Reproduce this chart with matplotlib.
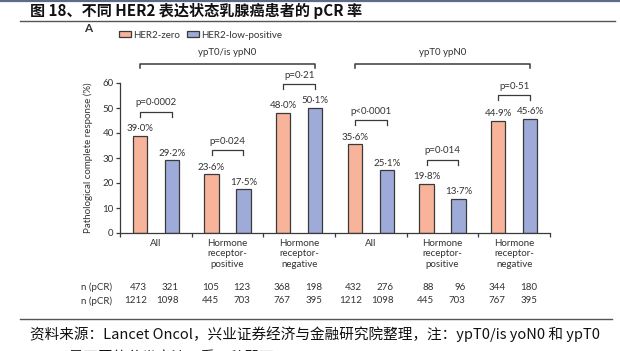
import matplotlib
matplotlib.use("Agg")
import matplotlib.pyplot as plt
from matplotlib.lines import Line2D
import numpy as np

# data
groups = ["All", "Hormone\nreceptor-\npositive", "Hormone\nreceptor-\nnegative"] * 2
her2_zero = [39.0, 23.6, 48.0, 35.6, 19.8, 44.9]
her2_low = [29.2, 17.5, 50.1, 25.1, 13.7, 45.6]
p_values = ["p=0·0002", "p=0·024", "p=0·21", "p<0·0001", "p=0·014", "p=0·51"]
n_pcr_zero = [473, 105, 368, 432, 88, 344]
n_pcr_low = [321, 123, 198, 276, 96, 180]
n_tot_zero = [1212, 445, 767, 1212, 445, 767]
n_tot_low = [1098, 703, 395, 1098, 703, 395]
endpoints = ["ypT0/is ypN0", "ypT0 ypN0"]

title = "图 18、不同 HER2 表达状态乳腺癌患者的 pCR 率"
source = "资料来源：Lancet Oncol，兴业证券经济与金融研究院整理，注：ypT0/is yoN0 和 ypT0"
source2 = "ypN0 是不同的分类方法，看一种即可"

# style
c_zero = "#f8b39b"
c_low = "#9eabd8"
edge = "#3a3a3a"
txt = "#333333"
plt.rcParams['font.family'] = ['Lato', 'Noto Sans CJK SC', 'DejaVu Sans']
cjk = ['Noto Sans CJK SC', 'DejaVu Sans']

W, H = 620, 351
fig = plt.figure(figsize=(W / 100, H / 100), dpi=100)
ax = fig.add_axes([120 / W, 118 / H, 430 / W, 150 / H])

x = np.arange(len(groups))
off, bw = 0.223, 0.2
b1 = ax.bar(x - off, her2_zero, bw, color=c_zero, edgecolor=edge, lw=0.9, label="HER2-zero")
b2 = ax.bar(x + off, her2_low, bw, color=c_low, edgecolor=edge, lw=0.9, label="HER2-low-positive")

ax.set_xlim(-0.5, len(groups) - 0.5)
ax.set_ylim(0, 60)
for s in ["top", "right"]:
  ax.spines[s].set_visible(False)
for s in ["left", "bottom"]:
  ax.spines[s].set_color(edge)
  ax.spines[s].set_linewidth(0.9)

ax.set_yticks(range(0, 61, 10))
ax.tick_params(axis='y', length=3, width=0.9, color=edge, labelsize=7, labelcolor=txt, pad=1.5)
ax.set_xticks(x, groups)
ax.tick_params(axis='x', which='major', length=0, labelsize=7, labelcolor=txt, pad=4)
for lb in ax.get_xticklabels():
  lb.set_linespacing(1.25)
ax.set_xticks(np.arange(-0.5, len(groups), 1), minor=True)
ax.tick_params(axis='x', which='minor', length=3, width=0.9, color=edge)
ax.set_ylabel("Pathological complete response (%)", fontsize=7, color=txt)
ax.yaxis.set_label_coords(-0.062, 0.5)

def fmt(v):
  return f"{v:.1f}%".replace(".", "·")

for i in x:
  a, b = her2_zero[i], her2_low[i]
  ax.text(i - off, a + 2.8, fmt(a), ha='center', va='center', fontsize=7, color=txt)
  ax.text(i + off, b + 2.8, fmt(b), ha='center', va='center', fontsize=7, color=txt)
  y0 = max(a, b) + 9.5
  ax.plot([i - off, i - off, i + off, i + off], [y0 - 1.9, y0, y0, y0 - 1.9],
          color=edge, lw=0.9, clip_on=False)
  ax.text(i, y0 + 3.6, p_values[i], ha='center', va='center', fontsize=7, color=txt)
  # n rows, right aligned to bar edges
  tr = ax.get_xaxis_transform()
  ax.text(i - off + bw / 2, -0.36, str(n_pcr_zero[i]), transform=tr, ha='right', va='center', fontsize=7, color=txt)
  ax.text(i + off + bw / 2, -0.36, str(n_pcr_low[i]), transform=tr, ha='right', va='center', fontsize=7, color=txt)
  ax.text(i - off + bw / 2, -0.453, str(n_tot_zero[i]), transform=tr, ha='right', va='center', fontsize=7, color=txt)
  ax.text(i + off + bw / 2, -0.453, str(n_tot_low[i]), transform=tr, ha='right', va='center', fontsize=7, color=txt)

fig.text(81 / W, 1 - 287 / H, "n (pCR)", ha='left', va='center', fontsize=7, color=txt)
fig.text(81 / W, 1 - 301 / H, "n (pCR)", ha='left', va='center', fontsize=7, color=txt)

# endpoint brackets
for k, name in enumerate(endpoints):
  x0, x1 = 3 * k - off, 3 * k + 2 + off
  ax.plot([x0, x0, x1, x1], [65.9, 67.5, 67.5, 65.9], color=edge, lw=1.1, clip_on=False)
  ax.text((x0 + x1) / 2, 72.3, name, ha='center', va='center', fontsize=7, color=txt)

fig.legend(handles=[b1, b2], loc='center left', bbox_to_anchor=(119 / W, 1 - 35 / H), ncol=2,
           frameon=False, fontsize=7, handlelength=1.2, handleheight=0.55, handletextpad=0.25,
           columnspacing=0.75, borderaxespad=0, borderpad=0, labelcolor=txt)
fig.text(88 / W, 1 - 28 / H, "A", ha='center', va='center', fontsize=8.5, fontweight='bold', color=txt)

# report frame: title, rules, source
fig.add_artist(Line2D([0, 1], [1 - 0.8 / H] * 2, color="#5d6a88", lw=1.6))
fig.text(30 / W, 1 - 11 / H, title, ha='left', va='center', fontsize=10.9, fontweight='bold',
         family=cjk, color="#111111")
fig.add_artist(Line2D([20 / W, 615 / W], [1 - 21 / H] * 2, color="#555555", lw=1))
fig.add_artist(Line2D([20 / W, 612 / W], [1 - 319 / H] * 2, color="#555555", lw=1))
fig.text(30 / W, 1 - 334 / H, source, ha='left', va='center', fontsize=10.5, family=cjk, color="#111111")
fig.text(30 / W, 1 - 357 / H, source2, ha='left', va='center', fontsize=10.5, family=cjk, color="#111111")

fig.savefig("out.png", dpi=100)
